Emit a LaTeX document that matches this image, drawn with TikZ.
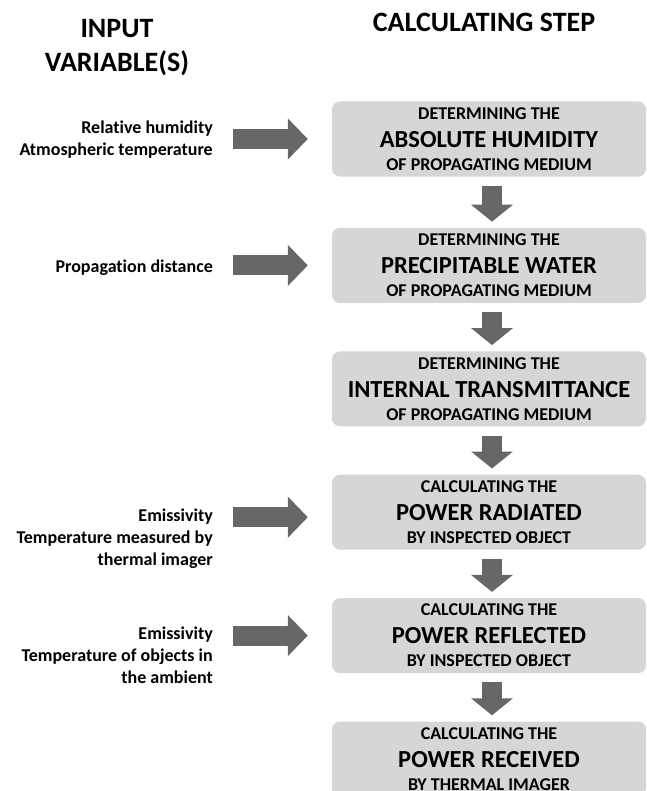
\documentclass[tikz,border=0pt]{standalone}
\usepackage{fontspec}
\setmainfont{Carlito}[Ligatures=NoCommon]
\usepackage{tikz}
\usetikzlibrary{arrows.meta,positioning}
\definecolor{stepgray}{HTML}{D6D6D6}
\definecolor{arrowgray}{HTML}{676767}

% three lines of a step box: small, large, small
\newcommand{\steplines}[3]{#1\\[5bp]{\fontsize{24.5bp}{23bp}\selectfont #2}\\#3}

\begin{document}
\begin{tikzpicture}[x=1bp, y=-1bp,
    stepbox/.style={fill=stepgray, rounded corners=8bp, minimum width=314bp, minimum height=75bp,
      inner sep=0pt, align=center, font=\bfseries\fontsize{18bp}{23bp}\selectfont},
    inputtext/.style={anchor=base east, align=right, inner sep=0pt,
      font=\bfseries\fontsize{18bp}{21.7bp}\selectfont},
    header/.style={anchor=base, align=center, inner sep=0pt,
      font=\bfseries\fontsize{28bp}{34bp}\selectfont},
    downarrow/.style={draw=arrowgray, line width=20bp, -{Triangle[length=17bp, width=41bp]}},
    rightarrow/.style={draw=arrowgray, line width=20bp, -{Triangle[length=20bp, width=40bp]}}]
    \useasboundingbox (0,0) rectangle (647,791);

    % headers (base = last line)
    \node[header] (hinput) at (117,72) {INPUT\\VARIABLE(S)};
    \node[header] (hstep) at (484,32) {CALCULATING STEP};

    % calculating steps
    \node[stepbox] (b1) at (489,139) {\steplines{DETERMINING THE}{ABSOLUTE HUMIDITY}{OF PROPAGATING MEDIUM}};
    \node[stepbox, below=51bp of b1] (b2) {\steplines{DETERMINING THE}{PRECIPITABLE WATER}{OF PROPAGATING MEDIUM}};
    \node[stepbox, below=48bp of b2] (b3) {\steplines{DETERMINING THE}{INTERNAL TRANSMITTANCE}{OF PROPAGATING MEDIUM}};
    \node[stepbox, below=48bp of b3] (b4) {\steplines{CALCULATING THE}{POWER RADIATED}{BY INSPECTED OBJECT}};
    \node[stepbox, below=48bp of b4] (b5) {\steplines{CALCULATING THE}{POWER REFLECTED}{BY INSPECTED OBJECT}};
    \node[stepbox, below=48bp of b5] (b6) {\steplines{CALCULATING THE}{POWER RECEIVED}{BY THERMAL IMAGER}};

    \foreach \a/\b in {b1/b2, b2/b3, b3/b4, b4/b5, b5/b6}
      \draw[downarrow] ([xshift=3bp, yshift=-9bp]\a.south) -- ([xshift=3bp, yshift=6bp]\b.north);

    % input variables (base = last line)
    \node[inputtext] (in1) at (213,155) {Relative humidity\\Atmospheric temperature};
    \node[inputtext] (in2) at (213,272) {Propagation distance};
    \node[inputtext] (in4) at (213,565) {Emissivity\\Temperature measured by\\thermal imager};
    \node[inputtext] (in5) at (213,683) {Emissivity\\Temperature of objects in\\the ambient};

    \draw[rightarrow] ([xshift=20bp]in1.east |- b1.west) -- ([xshift=-24bp]b1.west);
    \draw[rightarrow] ([xshift=20bp]in2.east |- b2.west) -- ([xshift=-24bp]b2.west);
    \draw[rightarrow] ([xshift=20bp, yshift=-5bp]in4.east |- b4.west) -- ([xshift=-24bp, yshift=-5bp]b4.west);
    \draw[rightarrow] ([xshift=20bp]in5.east |- b5.west) -- ([xshift=-24bp]b5.west);
\end{tikzpicture}
\end{document}
